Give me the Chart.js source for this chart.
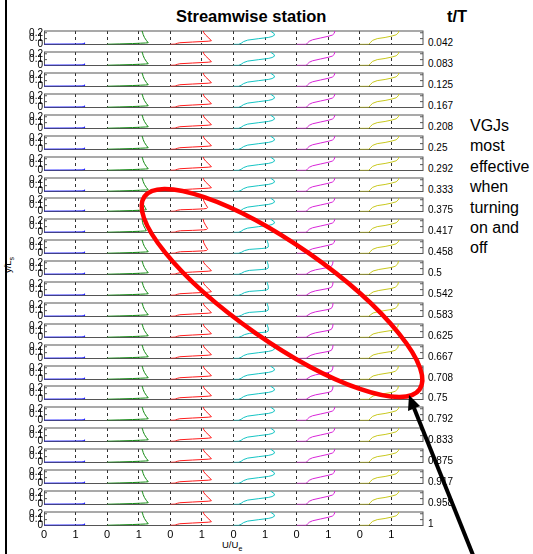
<!DOCTYPE html>
<html lang="en">
<head>
    <meta charset="UTF-8">
    <title>Streamwise station</title>
    <script src="https://cdn.jsdelivr.net/npm/chart.js"></script>
    <style>
        body { margin: 0; background: #fff; }
        #page { position: relative; width: 533px; height: 554px; overflow: hidden; font-family: "Liberation Sans", Arial, Helvetica, sans-serif; color: #000; }
        #page canvas { position: absolute; }
        .txt { position: absolute; white-space: nowrap; }
        .head { font-weight: bold; font-size: 16.5px; line-height: 16px; top: 8px; }
        .tt { font-size: 10px; line-height: 10px; left: 428px; }
        #note { left: 470px; top: 116px; font-size: 16px; line-height: 20.4px; white-space: normal; width: 64px; }
        .axl { font-size: 9.5px; line-height: 10px; }
        .axl sub { font-size: 7px; vertical-align: -3px; }
        #frame { position: absolute; left: 5px; top: 0; width: 2px; height: 554px; background: #000; }
    </style>
</head>
<body>
<div id="page">
    <div id="frame"></div>
    <div class="txt head" style="left:176px">Streamwise station</div>
    <div class="txt head" style="left:447px">t/T</div>
    <div class="txt" id="note">VGJs most effective when turning on and off</div>
    <div class="txt axl" style="left:222px;top:540px">U/U<sub>e</sub></div>
    <div class="txt axl" style="left:2px;top:258px;transform:rotate(-90deg)">y/L<sub>s</sub></div>
    <canvas id="marks" width="533" height="554" style="left:0;top:0;z-index:5"></canvas>
</div>

<script>
    // phase of the cycle, one subplot row each
    const tLabels = ['0.042', '0.083', '0.125', '0.167', '0.208', '0.25', '0.292', '0.333',
        '0.375', '0.417', '0.458', '0.5', '0.542', '0.583', '0.625', '0.667',
        '0.708', '0.75', '0.792', '0.833', '0.875', '0.917', '0.958', '1'];

    // each station is plotted shifted by 2 in U/Ue
    const stationOffset = [0, 2, 4, 6, 8, 10];
    const stationColors = ['#1414ff', '#138a13', '#ff1c1c', '#14c4c4', '#d826d8', '#c8c81e'];

    const xTicks = [0, 1, 2, 3, 4, 5, 6, 7, 8, 9, 10, 11];
    const yTicks = [0, 0.1, 0.2];

    // profiles as [U/Ue, y/Ls]
    const blueShapes = [
        [[0, 0.006], [0.5, 0.007], [1.0, 0.008], [1.2, 0.01], [1.27, 0.014], [1.3, 0.022], [1.27, 0.026]]
    ];
    const greenShapes = [
        [[0, 0.004], [0.4, 0.01], [0.8, 0.016], [1.05, 0.022], [1.22, 0.026], [1.3, 0.03], [1.24, 0.07], [1.18, 0.12], [1.14, 0.17], [1.12, 0.21], [1.11, 0.26]],
        [[0, 0.004], [0.4, 0.01], [0.8, 0.016], [1.05, 0.022], [1.18, 0.026], [1.24, 0.03], [1.2, 0.07], [1.15, 0.12], [1.12, 0.17], [1.1, 0.26]]
    ];
    const redShapes = [
        [[0, 0.003], [0.15, 0.006], [0.22, 0.02], [0.3, 0.03], [0.7, 0.042], [1.2, 0.056], [1.3, 0.064], [1.22, 0.11], [1.12, 0.16], [1.06, 0.2], [1.03, 0.26]],
        [[0, 0.003], [0.15, 0.006], [0.22, 0.02], [0.32, 0.03], [0.7, 0.036], [1.05, 0.045], [1.15, 0.052], [1.18, 0.07], [1.12, 0.12], [1.06, 0.18], [1.03, 0.26]]
    ];
    const cyanShapes = [
        [[0, 0.002], [0.16, 0.003], [0.24, 0.02], [0.32, 0.05], [0.45, 0.075], [0.8, 0.1], [1.1, 0.12], [1.22, 0.135], [1.3, 0.16], [1.28, 0.19], [1.2, 0.215], [1.16, 0.26]],
        [[0, 0.002], [0.16, 0.003], [0.25, 0.02], [0.35, 0.05], [0.5, 0.07], [0.9, 0.085], [1.05, 0.095], [1.1, 0.11], [1.1, 0.16], [1.07, 0.21], [1.06, 0.26]]
    ];
    const magentaShapes = [
        [[0, 0.002], [0.3, 0.003], [0.34, 0.025], [0.4, 0.055], [0.5, 0.08], [0.75, 0.11], [1.0, 0.14], [1.13, 0.16], [1.19, 0.19], [1.22, 0.26]],
        [[0, 0.002], [0.3, 0.003], [0.36, 0.025], [0.45, 0.055], [0.6, 0.08], [1.0, 0.12], [1.1, 0.14], [1.14, 0.18], [1.16, 0.26]]
    ];
    const yellowShapes = [
        [[0, 0.002], [0.28, 0.003], [0.33, 0.03], [0.4, 0.07], [0.55, 0.1], [0.8, 0.12], [1.02, 0.145], [1.15, 0.165], [1.22, 0.2], [1.25, 0.26]],
        [[0, 0.002], [0.28, 0.003], [0.34, 0.03], [0.42, 0.06], [0.6, 0.085], [1.0, 0.12], [1.12, 0.14], [1.2, 0.18], [1.24, 0.26]]
    ];
    const shapes = [blueShapes, greenShapes, redShapes, cyanShapes, magentaShapes, yellowShapes];

    // which profile each station shows in each row
    const rowShape = [
        [0, 0, 0, 0, 0, 0],
        [0, 0, 0, 0, 0, 0],
        [0, 0, 0, 0, 0, 0],
        [0, 0, 0, 0, 0, 0],
        [0, 0, 0, 0, 0, 0],
        [0, 0, 0, 0, 0, 0],
        [0, 0, 0, 0, 0, 0],
        [0, 0, 0, 0, 0, 0],
        [0, 1, 1, 0, 0, 0],
        [0, 1, 1, 0, 0, 0],
        [0, 0, 1, 1, 0, 0],
        [0, 0, 0, 1, 1, 1],
        [0, 0, 0, 1, 1, 1],
        [0, 0, 0, 1, 1, 1],
        [0, 0, 0, 1, 1, 1],
        [0, 0, 0, 0, 1, 1],
        [0, 0, 0, 0, 1, 1],
        [0, 0, 0, 0, 1, 1],
        [0, 0, 0, 0, 0, 0],
        [0, 0, 0, 0, 0, 0],
        [0, 0, 0, 0, 0, 0],
        [0, 0, 0, 0, 0, 0],
        [0, 0, 0, 0, 0, 0],
        [0, 0, 0, 0, 0, 0]
    ];

    const fontFamily = '"Liberation Sans", Arial, Helvetica, sans-serif';
    const page = document.getElementById('page');
    const rowTop0 = 31.3;
    const rowPitch = 20.89;

    // box outline plus inward y ticks on both sides
    const boxPlugin = {
        id: 'box',
        beforeDatasetsDraw(chart) {
            const { ctx, chartArea: a, scales: { y } } = chart;
            ctx.save();
            ctx.strokeStyle = '#555';
            ctx.lineWidth = 1;
            ctx.strokeRect(a.left + 0.5, a.top, a.right - a.left - 0.5, a.bottom - a.top);
            ctx.beginPath();
            yTicks.forEach(v => {
                const py = y.getPixelForValue(v);
                ctx.moveTo(a.left, py);
                ctx.lineTo(a.left + 3, py);
                ctx.moveTo(a.right, py);
                ctx.lineTo(a.right - 3, py);
            });
            ctx.stroke();
            ctx.restore();
        }
    };

    tLabels.forEach((t, i) => {
        const last = i === tLabels.length - 1;
        const top = Math.round(rowTop0 + rowPitch * i) - 5;
        const h = last ? 38 : 21;
        const c = document.createElement('canvas');
        c.width = 406;
        c.height = h;
        c.style.left = '20px';
        c.style.top = top + 'px';
        page.appendChild(c);

        const lbl = document.createElement('div');
        lbl.className = 'txt tt';
        lbl.style.top = (top + 12) + 'px';
        lbl.textContent = t;
        page.appendChild(lbl);

        new Chart(c, {
            type: 'scatter',
            data: {
                datasets: shapes.map((variants, s) => ({
                    data: variants[rowShape[i][s]].map(p => ({ x: p[0] + stationOffset[s], y: p[1] })),
                    showLine: true,
                    borderColor: stationColors[s],
                    borderWidth: 1,
                    pointRadius: 0,
                    fill: false
                }))
            },
            options: {
                responsive: false,
                animation: false,
                devicePixelRatio: 1,
                layout: { padding: { top: 5, right: 3, bottom: 2.5, left: 0 } },
                plugins: { legend: { display: false }, tooltip: { enabled: false } },
                scales: {
                    x: {
                        type: 'linear',
                        min: 0,
                        max: 12,
                        afterBuildTicks: s => { s.ticks = xTicks.map(v => ({ value: v })); },
                        afterFit: s => { s.height = last ? 17 : 0; s.paddingLeft = 0; s.paddingRight = 0; },
                        ticks: {
                            display: last,
                            autoSkip: false,
                            maxRotation: 0,
                            padding: 3,
                            color: '#000',
                            font: { size: 11, family: fontFamily },
                            callback: v => String(v % 2)
                        },
                        grid: { color: '#333', lineWidth: 1, drawTicks: false },
                        border: { display: false, dash: [3, 3] }
                    },
                    y: {
                        type: 'linear',
                        min: 0,
                        max: 0.23,
                        afterBuildTicks: s => { s.ticks = yTicks.map(v => ({ value: v })); },
                        afterFit: s => { s.width = 24; s.paddingTop = 0; s.paddingBottom = 0; },
                        ticks: {
                            autoSkip: false,
                            padding: 1,
                            color: '#000',
                            font: { size: 10, family: fontFamily },
                            callback: v => String(v)
                        },
                        grid: { drawOnChartArea: false, drawTicks: false },
                        border: { display: false }
                    }
                }
            },
            plugins: [boxPlugin]
        });
    });

    // hand annotation: ellipse around the affected profiles and a pointer
    const mk = document.getElementById('marks').getContext('2d');
    mk.strokeStyle = '#ff0000';
    mk.lineWidth = 4.5;
    mk.beginPath();
    mk.ellipse(282, 293, 168, 48, 35 * Math.PI / 180, 0, Math.PI * 2);
    mk.stroke();

    mk.strokeStyle = '#000';
    mk.fillStyle = '#000';
    mk.lineWidth = 4;
    mk.beginPath();
    mk.moveTo(475, 560);
    mk.lineTo(414, 408);
    mk.stroke();
    mk.beginPath();
    mk.moveTo(409, 395);
    mk.lineTo(420, 406);
    mk.lineTo(408, 411);
    mk.closePath();
    mk.fill();
</script>
</body>
</html>
